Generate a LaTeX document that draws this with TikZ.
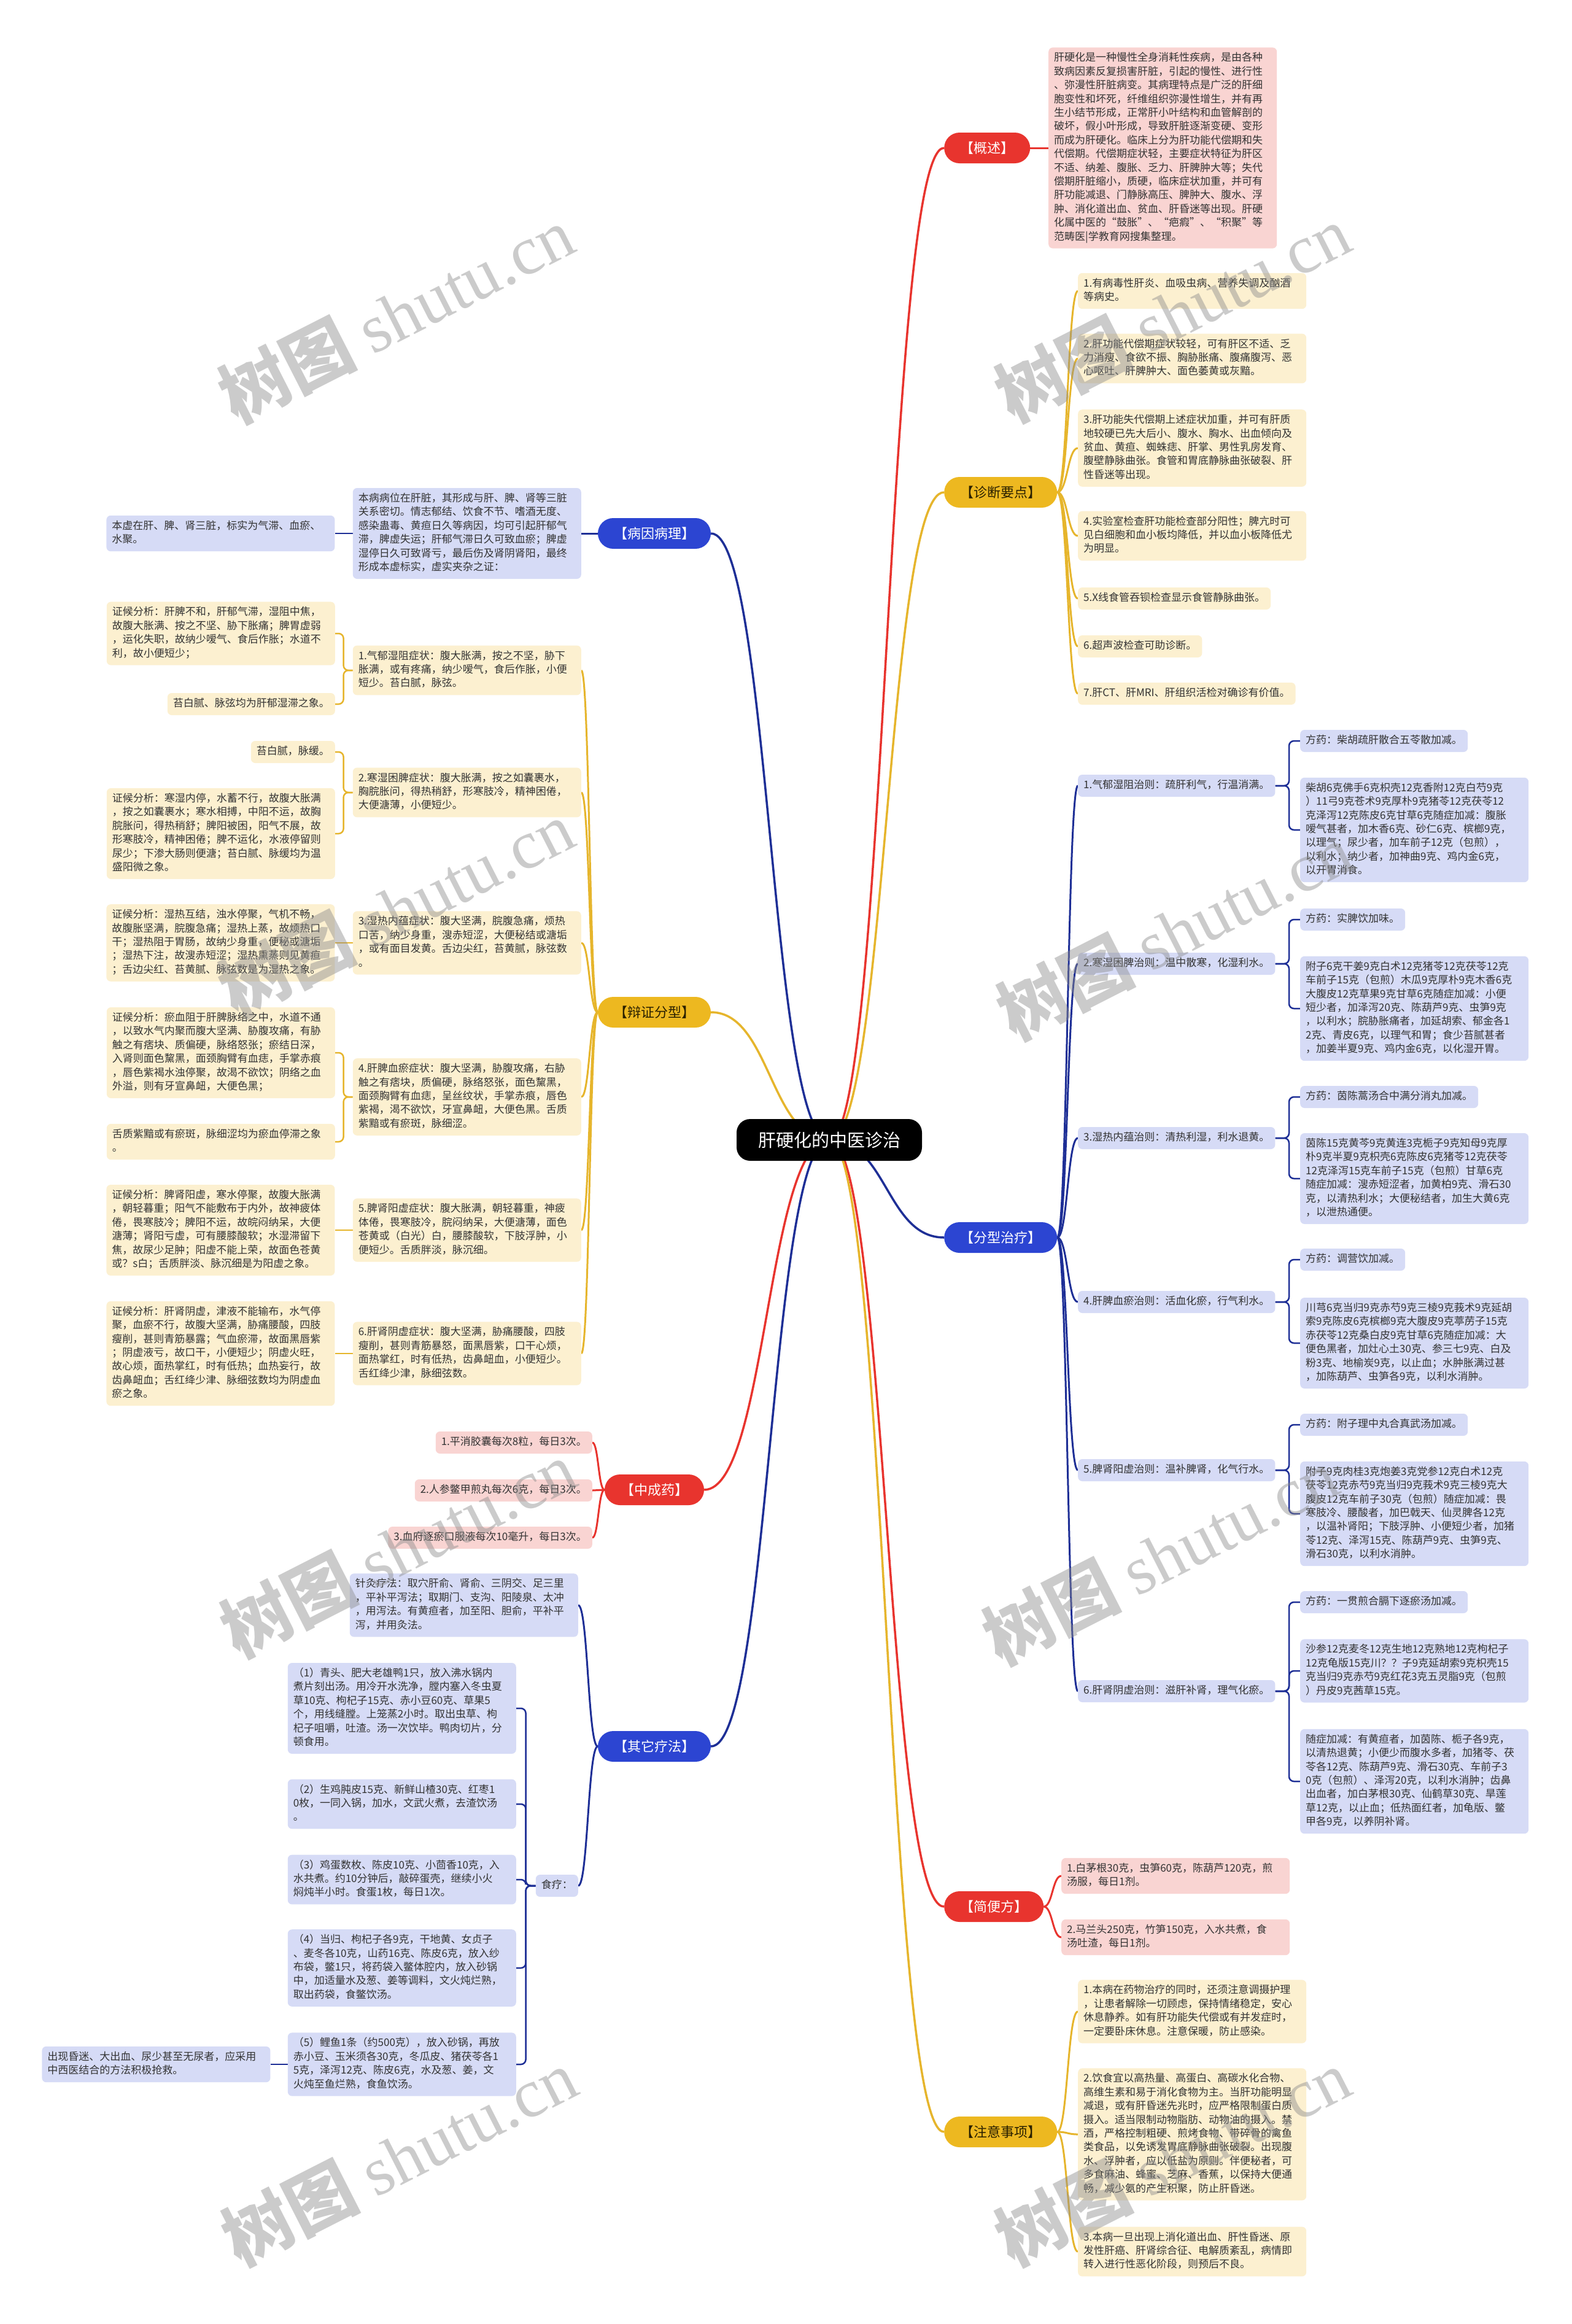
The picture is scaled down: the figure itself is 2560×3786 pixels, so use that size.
\documentclass[tikz,border=0pt]{standalone}
\usepackage{fontspec}
\setmainfont{Noto Sans CJK SC}
\newfontfamily\latfont{Liberation Serif}
\usepackage{tikz}
\usetikzlibrary{positioning,calc,backgrounds}

\definecolor{rosso}{HTML}{E8342E}
\definecolor{giallo}{HTML}{EDB820}
\definecolor{giallolin}{HTML}{E6B52C}
\definecolor{blu}{HTML}{2C45D2}
\definecolor{blulin}{HTML}{1E2F96}
\definecolor{rosa}{HTML}{F9D4D2}
\definecolor{crema}{HTML}{FCF0D0}
\definecolor{lilla}{HTML}{D6DBF6}
\definecolor{testo}{HTML}{333333}
\definecolor{scuro}{HTML}{2B2100}
\definecolor{grigio}{HTML}{8C8C8C}

\begin{document}
\begin{tikzpicture}[x=1pt, y=-1pt,
    centro/.style={fill=black, text=white, rounded corners=22pt, minimum width=302pt, minimum height=68pt, font=\fontsize{29}{34}\selectfont},
    ramo/.style={rounded corners=25pt, minimum height=50pt, inner xsep=26pt, font=\fontsize{22}{27}\selectfont},
    casella/.style={rounded corners=7pt, inner xsep=9pt, inner ysep=6.8pt, text=testo, font=\fontsize{17}{22.4}\selectfont, execute at begin node=\strut},
    foglia/.style={casella, text width=354pt, align=left, execute at end node=\strut},
    tronco/.style={line width=3.5pt},
    medio/.style={line width=3pt},
    sottile/.style={line width=2.5pt, rounded corners=8pt},
    curva/.style={to path={let \p1=(\tikztostart), \p2=(\tikztotarget) in .. controls ({(\x1+\x2)/2},\y1) and ({(\x1+\x2)/2},\y2) .. (\tikztotarget)}},
    filigrana/.style={text=grigio, text opacity=0.45, font=\fontsize{112}{120}\selectfont}]

\useasboundingbox (0,0) rectangle (2560,3786);

% nodo centrale
\node[centro] (m) at (1351,1857) {肝硬化的中医诊治};

% rami principali
\node[ramo, fill=rosso, text=white, anchor=west] (b1) at (1538,241) {【概述】};
\node[ramo, fill=giallo, text=scuro, anchor=west] (b2) at (1538,802) {【诊断要点】};
\node[ramo, fill=blu, text=white] (b3) at (1066,869) {【病因病理】};
\node[ramo, fill=giallo, text=scuro] (b4) at (1066,1649) {【辩证分型】};
\node[ramo, fill=blu, text=white, anchor=west] (b5) at (1538,2016) {【分型治疗】};
\node[ramo, fill=rosso, text=white] (b6) at (1066,2427) {【中成药】};
\node[ramo, fill=blu, text=white] (b7) at (1066,2845) {【其它疗法】};
\node[ramo, fill=rosso, text=white, anchor=west] (b8) at (1538,3106) {【简便方】};
\node[ramo, fill=giallo, text=scuro, anchor=west] (b9) at (1538,3473) {【注意事项】};

%概述
\node[foglia, fill=rosa, anchor=west] (a1) at (1708,241) {肝硬化是一种慢性全身消耗性疾病，是由各种\\致病因素反复损害肝脏，引起的慢性、进行性\\、弥漫性肝脏病变。其病理特点是广泛的肝细\\胞变性和坏死，纤维组织弥漫性增生，并有再\\生小结节形成，正常肝小叶结构和血管解剖的\\破坏，假小叶形成，导致肝脏逐渐变硬、变形\\而成为肝硬化。临床上分为肝功能代偿期和失\\代偿期。代偿期症状轻，主要症状特征为肝区\\不适、纳差、腹胀、乏力、肝脾肿大等；失代\\偿期肝脏缩小，质硬，临床症状加重，并可有\\肝功能减退、门静脉高压、脾肿大、腹水、浮\\肿、消化道出血、贫血、肝昏迷等出现。肝硬\\化属中医的“鼓胀”、“疤瘕”、“积聚”等\\范畴医|学教育网搜集整理。};

% 诊断要点
\node[foglia, fill=crema, anchor=west] (d1) at (1756,474) {1.有病毒性肝炎、血吸虫病、营养失调及酗酒\\等病史。};
\node[foglia, fill=crema, anchor=west] (d2) at (1756,584) {2.肝功能代偿期症状较轻，可有肝区不适、乏\\力消瘦、食欲不振、胸胁胀痛、腹痛腹泻、恶\\心呕吐、肝脾肿大、面色萎黄或灰黯。};
\node[foglia, fill=crema, anchor=west] (d3) at (1756,730) {3.肝功能失代偿期上述症状加重，并可有肝质\\地较硬已先大后小、腹水、胸水、出血倾向及\\贫血、黄疸、蜘蛛痣、肝掌、男性乳房发育、\\腹壁静脉曲张。食管和胃底静脉曲张破裂、肝\\性昏迷等出现。};
\node[foglia, fill=crema, anchor=west] (d4) at (1756,873) {4.实验室检查肝功能检查部分阳性；脾亢时可\\见白细胞和血小板均降低，并以血小板降低尤\\为明显。};
\node[casella, fill=crema, anchor=west] (d5) at (1756,975) {5.X线食管吞钡检查显示食管静脉曲张。};
\node[casella, fill=crema, anchor=west] (d6) at (1756,1053) {6.超声波检查可助诊断。};
\node[casella, fill=crema, anchor=west] (d7) at (1756,1130) {7.肝CT、肝MRI、肝组织活检对确诊有价值。};

% 病因病理
\node[foglia, fill=lilla, anchor=east] (e1) at (947,869) {本病病位在肝脏，其形成与肝、脾、肾等三脏\\关系密切。情志郁结、饮食不节、嗜酒无度、\\感染蛊毒、黄疸日久等病因，均可引起肝郁气\\滞，脾虚失运；肝郁气滞日久可致血瘀；脾虚\\湿停日久可致肾亏，最后伤及肾阴肾阳，最终\\形成本虚标实，虚实夹杂之证：};
\node[foglia, fill=lilla, left=29pt of e1] (e2) {本虚在肝、脾、肾三脏，标实为气滞、血瘀、\\水聚。};

% 辩证分型
\node[foglia, fill=crema, anchor=east] (s1) at (947,1092) {1.气郁湿阻症状：腹大胀满，按之不坚，胁下\\胀满，或有疼痛，纳少嗳气，食后作胀，小便\\短少。苔白腻，脉弦。};
\node[foglia, fill=crema, anchor=east] (s2) at (947,1291) {2.寒湿困脾症状：腹大胀满，按之如囊裹水，\\胸脘胀问，得热稍舒，形寒肢冷，精神困倦，\\大便溏薄，小便短少。};
\node[foglia, fill=crema, anchor=east] (s3) at (947,1536) {3.湿热内蕴症状：腹大坚满，脘腹急痛，烦热\\口苦，纳少身重，溲赤短涩，大便秘结或溏垢\\，或有面目发黄。舌边尖红，苔黄腻，脉弦数\\。};
\node[foglia, fill=crema, anchor=east] (s4) at (947,1787) {4.肝脾血瘀症状：腹大坚满，胁腹攻痛，右胁\\触之有痞块，质偏硬，脉络怒张，面色黧黑，\\面颈胸臂有血痣，呈丝纹状，手掌赤痕，唇色\\紫褐，渴不欲饮，牙宣鼻衄，大便色黑。舌质\\紫黯或有瘀斑，脉细涩。};
\node[foglia, fill=crema, anchor=east] (s5) at (947,2004) {5.脾肾阳虚症状：腹大胀满，朝轻暮重，神疲\\体倦，畏寒肢冷，脘闷纳呆，大便溏薄，面色\\苍黄或（白光）白，腰膝酸软，下肢浮肿，小\\便短少。舌质胖淡，脉沉细。};
\node[foglia, fill=crema, anchor=east] (s6) at (947,2205) {6.肝肾阴虚症状：腹大坚满，胁痛腰酸，四肢\\瘦削，甚则青筋暴怒，面黑唇紫，口干心烦，\\面热掌红，时有低热，齿鼻衄血，小便短少。\\舌红绛少津，脉细弦数。};

\node[foglia, fill=crema, anchor=east] (g1) at (546,1032) {证候分析：肝脾不和，肝郁气滞，湿阻中焦，\\故腹大胀满、按之不坚、胁下胀痛；脾胃虚弱\\，运化失职，故纳少嗳气、食后作胀；水道不\\利，故小便短少；};
\node[casella, fill=crema, anchor=east] (g2) at (546,1147) {苔白腻、脉弦均为肝郁湿滞之象。};
\node[casella, fill=crema, anchor=east] (g3) at (546,1225) {苔白腻，脉缓。};
\node[foglia, fill=crema, anchor=east] (g4) at (546,1358) {证候分析：寒湿内停，水蓄不行，故腹大胀满\\，按之如囊裹水；寒水相搏，中阳不运，故胸\\脘胀问，得热稍舒；脾阳被困，阳气不展，故\\形寒肢冷，精神困倦；脾不运化，水液停留则\\尿少；下渗大肠则便溏；苔白腻、脉缓均为温\\盛阳微之象。};
\node[foglia, fill=crema, left=29pt of s3] (g5) {证候分析：湿热互结，浊水停聚，气机不畅，\\故腹胀坚满，脘腹急痛；湿热上蒸，故烦热口\\干；湿热阻于胃肠，故纳少身重，便秘或溏垢\\；湿热下注，故溲赤短涩；湿热熏蒸则见黄疸\\；舌边尖红、苔黄腻、脉弦数是为湿热之象。};
\node[foglia, fill=crema, anchor=east] (g6) at (546,1715) {证候分析：瘀血阻于肝脾脉络之中，水道不通\\，以致水气内聚而腹大坚满、胁腹攻痛，有胁\\触之有痞块、质偏硬，脉络怒张；瘀结日深，\\入肾则面色黧黑，面颈胸臂有血痣，手掌赤痕\\，唇色紫褐水浊停聚，故渴不欲饮；阴络之血\\外溢，则有牙宣鼻衄，大便色黑；};
\node[foglia, fill=crema, anchor=east] (g7) at (546,1860) {舌质紫黯或有瘀斑，脉细涩均为瘀血停滞之象\\。};
\node[foglia, fill=crema, left=29pt of s5] (g8) {证候分析：脾肾阳虚，寒水停聚，故腹大胀满\\，朝轻暮重；阳气不能敷布于内外，故神疲体\\倦，畏寒肢冷；脾阳不运，故皖闷纳呆，大便\\溏薄；肾阳亏虚，可有腰膝酸软；水湿滞留下\\焦，故尿少足肿；阳虚不能上荣，故面色苍黄\\或？s白；舌质胖淡、脉沉细是为阳虚之象。};
\node[foglia, fill=crema, left=29pt of s6] (g9) {证候分析：肝肾阴虚，津液不能输布，水气停\\聚，血瘀不行，故腹大坚满，胁痛腰酸，四肢\\瘦削，甚则青筋暴露；气血瘀滞，故面黑唇紫\\；阴虚液亏，故口干，小便短少；阴虚火旺，\\故心烦，面热掌红，时有低热；血热妄行，故\\齿鼻衄血；舌红绛少津、脉细弦数均为阴虚血\\瘀之象。};

% 分型治疗
\node[casella, fill=lilla, anchor=west] (z1) at (1756,1280) {1.气郁湿阻治则：疏肝利气，行温消满。};
\node[casella, fill=lilla, anchor=west] (z2) at (1756,1570) {2.寒湿困脾治则：温中散寒，化湿利水。};
\node[casella, fill=lilla, anchor=west] (z3) at (1756,1854) {3.湿热内蕴治则：清热利湿，利水退黄。};
\node[casella, fill=lilla, anchor=west] (z4) at (1756,2121) {4.肝脾血瘀治则：活血化瘀，行气利水。};
\node[casella, fill=lilla, anchor=west] (z5) at (1756,2395) {5.脾肾阳虚治则：温补脾肾，化气行水。};
\node[casella, fill=lilla, anchor=west] (z6) at (1756,2755) {6.肝肾阴虚治则：滋肝补肾，理气化瘀。};
\coordinate (k) at (2100,0);

\node[casella, fill=lilla, anchor=west] (p1) at (2118,1207) {方药：柴胡疏肝散合五苓散加减。};
\node[foglia, fill=lilla, anchor=west] (q1) at (2118,1352) {柴胡6克佛手6克枳壳12克香附12克白芍9克\\）11弓9克苍术9克厚朴9克猪苓12克茯苓12\\克泽泻12克陈皮6克甘草6克随症加减：腹胀\\嗳气甚者，加木香6克、砂仁6克、槟榔9克，\\以理气；尿少者，加车前子12克（包煎），\\以利水；纳少者，加神曲9克、鸡内金6克，\\以开胃消食。};
\node[casella, fill=lilla, anchor=west] (p2) at (2118,1498) {方药：实脾饮加味。};
\node[foglia, fill=lilla, anchor=west] (q2) at (2118,1643) {附子6克干姜9克白术12克猪苓12克茯苓12克\\车前子15克（包煎）木瓜9克厚朴9克木香6克\\大腹皮12克草果9克甘草6克随症加减：小便\\短少者，加泽泻20克、陈葫芦9克、虫笋9克\\，以利水；脘胁胀痛者，加延胡索、郁金各1\\2克、青皮6克，以理气和胃；食少苔腻甚者\\，加姜半夏9克、鸡内金6克，以化湿开胃。};
\node[casella, fill=lilla, anchor=west] (p3) at (2118,1787) {方药：茵陈蒿汤合中满分消丸加减。};
\node[foglia, fill=lilla, anchor=west] (q3) at (2118,1920) {茵陈15克黄芩9克黄连3克栀子9克知母9克厚\\朴9克半夏9克枳壳6克陈皮6克猪苓12克茯苓\\12克泽泻15克车前子15克（包煎）甘草6克\\随症加减：溲赤短涩者，加黄柏9克、滑石30\\克，以清热利水；大便秘结者，加生大黄6克\\，以泄热通便。};
\node[casella, fill=lilla, anchor=west] (p4) at (2118,2052) {方药：调营饮加减。};
\node[foglia, fill=lilla, anchor=west] (q4) at (2118,2188) {川芎6克当归9克赤芍9克三棱9克莪术9克延胡\\索9克陈皮6克槟榔9克大腹皮9克葶苈子15克\\赤茯苓12克桑白皮9克甘草6克随症加减：大\\便色黑者，加灶心土30克、参三七9克、白及\\粉3克、地榆炭9克，以止血；水肿胀满过甚\\，加陈葫芦、虫笋各9克，以利水消肿。};
\node[casella, fill=lilla, anchor=west] (p5) at (2118,2321) {方药：附子理中丸合真武汤加减。};
\node[foglia, fill=lilla, anchor=west] (q5) at (2118,2466) {附子9克肉桂3克炮姜3克党参12克白术12克\\茯苓12克赤芍9克当归9克莪术9克三棱9克大\\腹皮12克车前子30克（包煎）随症加减：畏\\寒肢冷、腰酸者，加巴戟天、仙灵脾各12克\\，以温补肾阳；下肢浮肿、小便短少者，加猪\\苓12克、泽泻15克、陈葫芦9克、虫笋9克、\\滑石30克，以利水消肿。};
\node[casella, fill=lilla, anchor=west] (p6) at (2118,2610) {方药：一贯煎合膈下逐瘀汤加减。};
\node[foglia, fill=lilla, anchor=west] (q6) at (2118,2722) {沙参12克麦冬12克生地12克熟地12克枸杞子\\12克龟版15克川？？子9克延胡索9克枳壳15\\克当归9克赤芍9克红花3克五灵脂9克（包煎\\）丹皮9克茜草15克。};
\node[foglia, fill=lilla, anchor=west] (q7) at (2118,2902) {随症加减：有黄疸者，加茵陈、栀子各9克，\\以清热退黄；小便少而腹水多者，加猪苓、茯\\苓各12克、陈葫芦9克、滑石30克、车前子3\\0克（包煎）、泽泻20克，以利水消肿；齿鼻\\出血者，加白茅根30克、仙鹤草30克、旱莲\\草12克，以止血；低热面红者，加龟版、鳖\\甲各9克，以养阴补肾。};

% 中成药
\node[casella, fill=rosa, anchor=east] (c1) at (965,2350) {1.平消胶囊每次8粒，每日3次。};
\node[casella, fill=rosa, anchor=east] (c2) at (965,2428) {2.人参鳖甲煎丸每次6克，每日3次。};
\node[casella, fill=rosa, anchor=east] (c3) at (965,2505) {3.血府逐瘀口服液每次10毫升，每日3次。};

% 其它疗法
\node[foglia, fill=lilla, anchor=east] (o1) at (942,2615) {针灸疗法：取穴肝俞、肾俞、三阴交、足三里\\，平补平泻法；取期门、支沟、阳陵泉、太冲\\，用泻法。有黄疸者，加至阳、胆俞，平补平\\泻，并用灸法。};
\node[casella, fill=lilla, anchor=east] (o2) at (942,3072) {食疗：};
\node[foglia, fill=lilla, anchor=east] (r1) at (841,2783) {（1）青头、肥大老雄鸭1只，放入沸水锅内\\煮片刻出汤。用冷开水洗净，膛内塞入冬虫夏\\草10克、枸杞子15克、赤小豆60克、草果5\\个，用线缝膛。上笼蒸2小时。取出虫草、枸\\杞子咀嚼，吐渣。汤一次饮毕。鸭肉切片，分\\顿食用。};
\node[foglia, fill=lilla, anchor=east] (r2) at (841,2939) {（2）生鸡肫皮15克、新鲜山楂30克、红枣1\\0枚，一同入锅，加水，文武火煮，去渣饮汤\\。};
\node[foglia, fill=lilla, anchor=east] (r3) at (841,3062) {（3）鸡蛋数枚、陈皮10克、小茴香10克，入\\水共煮。约10分钟后，敲碎蛋壳，继续小火\\焖炖半小时。食蛋1枚，每日1次。};
\node[foglia, fill=lilla, anchor=east] (r4) at (841,3206) {（4）当归、枸杞子各9克，干地黄、女贞子\\、麦冬各10克，山药16克、陈皮6克，放入纱\\布袋，鳖1只，将药袋入鳖体腔内，放入砂锅\\中，加适量水及葱、姜等调料，文火炖烂熟，\\取出药袋，食鳖饮汤。};
\node[foglia, fill=lilla, anchor=east] (r5) at (841,3363) {（5）鲤鱼1条（约500克），放入砂锅，再放\\赤小豆、玉米须各30克，冬瓜皮、猪茯苓各1\\5克，泽泻12克、陈皮6克，水及葱、姜，文\\火炖至鱼烂熟，食鱼饮汤。};
\node[foglia, fill=lilla, left=28pt of r5] (r6) {出现昏迷、大出血、尿少甚至无尿者，应采用\\中西医结合的方法积极抢救。};

% 简便方
\node[foglia, fill=rosa, anchor=west] (j1) at (1729,3056) {1.白茅根30克，虫笋60克，陈葫芦120克，煎\\汤服，每日1剂。};
\node[foglia, fill=rosa, anchor=west] (j2) at (1729,3156) {2.马兰头250克，竹笋150克，入水共煮，食\\汤吐渣，每日1剂。};

% 注意事项
\node[foglia, fill=crema, anchor=west] (n1) at (1756,3277) {1.本病在药物治疗的同时，还须注意调摄护理\\，让患者解除一切顾虑，保持情绪稳定，安心\\休息静养。如有肝功能失代偿或有并发症时，\\一定要卧床休息。注意保暖，防止感染。};
\node[foglia, fill=crema, anchor=west] (n2) at (1756,3477) {2.饮食宜以高热量、高蛋白、高碳水化合物、\\高维生素和易于消化食物为主。当肝功能明显\\减退，或有肝昏迷先兆时，应严格限制蛋白质\\摄入。适当限制动物脂肪、动物油的摄入。禁\\酒，严格控制粗硬、煎烤食物、带碎骨的禽鱼\\类食品，以免诱发胃底静脉曲张破裂。出现腹\\水、浮肿者，应以低盐为原则。伴便秘者，可\\多食麻油、蜂蜜、芝麻、香蕉，以保持大便通\\畅，减少氨的产生积聚，防止肝昏迷。};
\node[foglia, fill=crema, anchor=west] (n3) at (1756,3668) {3.本病一旦出现上消化道出血、肝性昏迷、原\\发性肝癌、肝肾综合征、电解质紊乱，病情即\\转入进行性恶化阶段，则预后不良。};

% collegamenti
\begin{scope}[on background layer]
\fill[white] (0,0) rectangle (2560,3786);
\draw[tronco, rosso] (m.center) to[curva] (b1.west);
\draw[tronco, giallolin] (m.center) to[curva] (b2.west);
\draw[tronco, blulin] (m.center) to[curva] (b3.east);
\draw[tronco, giallolin] (m.center) to[curva] (b4.east);
\draw[tronco, blulin] (m.center) to[curva] (b5.west);
\draw[tronco, rosso] (m.center) to[curva] (b6.east);
\draw[tronco, blulin] (m.center) to[curva] (b7.east);
\draw[tronco, rosso] (m.center) to[curva] (b8.west);
\draw[tronco, giallolin] (m.center) to[curva] (b9.west);

\draw[medio, rosso] (b1.east) -- (a1.west);
\draw[medio, giallolin] (b2.east) to[curva] (d1.west);
\draw[medio, giallolin] (b2.east) to[curva] (d2.west);
\draw[medio, giallolin] (b2.east) to[curva] (d3.west);
\draw[medio, giallolin] (b2.east) to[curva] (d4.west);
\draw[medio, giallolin] (b2.east) to[curva] (d5.west);
\draw[medio, giallolin] (b2.east) to[curva] (d6.west);
\draw[medio, giallolin] (b2.east) to[curva] (d7.west);

\draw[medio, blulin] (b3.west) -- (e1.east);
\draw[sottile, blulin] (e1.west) -- (e2.east);

\draw[medio, giallolin] (b4.west) to[curva] (s1.east);
\draw[medio, giallolin] (b4.west) to[curva] (s2.east);
\draw[medio, giallolin] (b4.west) to[curva] (s3.east);
\draw[medio, giallolin] (b4.west) to[curva] (s4.east);
\draw[medio, giallolin] (b4.west) to[curva] (s5.east);
\draw[medio, giallolin] (b4.west) to[curva] (s6.east);
\draw[sottile, giallolin] (s1.west) -- ++(-15,0) |- (g1.east);
\draw[sottile, giallolin] (s1.west) -- ++(-15,0) |- (g2.east);
\draw[sottile, giallolin] (s2.west) -- ++(-15,0) |- (g3.east);
\draw[sottile, giallolin] (s2.west) -- ++(-15,0) |- (g4.east);
\draw[sottile, giallolin] (s3.west) -- (g5.east);
\draw[sottile, giallolin] (s4.west) -- ++(-15,0) |- (g6.east);
\draw[sottile, giallolin] (s4.west) -- ++(-15,0) |- (g7.east);
\draw[sottile, giallolin] (s5.west) -- (g8.east);
\draw[sottile, giallolin] (s6.west) -- (g9.east);

\draw[medio, blulin] (b5.east) to[curva] (z1.west);
\draw[medio, blulin] (b5.east) to[curva] (z2.west);
\draw[medio, blulin] (b5.east) to[curva] (z3.west);
\draw[medio, blulin] (b5.east) to[curva] (z4.west);
\draw[medio, blulin] (b5.east) to[curva] (z5.west);
\draw[medio, blulin] (b5.east) to[curva] (z6.west);
\draw[sottile, blulin] (z1.east) -- (z1.east -| k) |- (p1.west);
\draw[sottile, blulin] (z1.east) -- (z1.east -| k) |- (q1.west);
\draw[sottile, blulin] (z2.east) -- (z2.east -| k) |- (p2.west);
\draw[sottile, blulin] (z2.east) -- (z2.east -| k) |- (q2.west);
\draw[sottile, blulin] (z3.east) -- (z3.east -| k) |- (p3.west);
\draw[sottile, blulin] (z3.east) -- (z3.east -| k) |- (q3.west);
\draw[sottile, blulin] (z4.east) -- (z4.east -| k) |- (p4.west);
\draw[sottile, blulin] (z4.east) -- (z4.east -| k) |- (q4.west);
\draw[sottile, blulin] (z5.east) -- (z5.east -| k) |- (p5.west);
\draw[sottile, blulin] (z5.east) -- (z5.east -| k) |- (q5.west);
\draw[sottile, blulin] (z6.east) -- (z6.east -| k) |- (p6.west);
\draw[sottile, blulin] (z6.east) -- (z6.east -| k) |- (q6.west);
\draw[sottile, blulin] (z6.east) -- (z6.east -| k) |- (q7.west);

\draw[medio, rosso] (b6.west) to[curva] (c1.east);
\draw[medio, rosso] (b6.west) to[curva] (c2.east);
\draw[medio, rosso] (b6.west) to[curva] (c3.east);

\draw[medio, blulin] (b7.west) to[curva] (o1.east);
\draw[medio, blulin] (b7.west) to[curva] (o2.east);
\draw[sottile, blulin] (o2.west) -- ++(-16,0) |- (r1.east);
\draw[sottile, blulin] (o2.west) -- ++(-16,0) |- (r2.east);
\draw[sottile, blulin] (o2.west) -- ++(-16,0) |- (r3.east);
\draw[sottile, blulin] (o2.west) -- ++(-16,0) |- (r4.east);
\draw[sottile, blulin] (o2.west) -- ++(-16,0) |- (r5.east);
\draw[sottile, blulin] (r5.west) -- (r6.east);

\draw[medio, rosso] (b8.east) to[curva] (j1.west);
\draw[medio, rosso] (b8.east) to[curva] (j2.west);

\draw[medio, giallolin] (b9.east) to[curva] (n1.west);
\draw[medio, giallolin] (b9.east) to[curva] (n2.west);
\draw[medio, giallolin] (b9.east) to[curva] (n3.west);
\end{scope}

% filigrana
\node[filigrana, rotate=27] (w1) at (645,512) {{\bfseries 树图} {\latfont shutu.cn}};
\node[filigrana, rotate=27] (w2) at (645,1480) {{\bfseries 树图} {\latfont shutu.cn}};
\node[filigrana, rotate=27] (w3) at (648,2523) {{\bfseries 树图} {\latfont shutu.cn}};
\node[filigrana, rotate=27] (w4) at (650,3514) {{\bfseries 树图} {\latfont shutu.cn}};
\node[filigrana, rotate=27] (w5) at (1910,510) {{\bfseries 树图} {\latfont shutu.cn}};
\node[filigrana, rotate=27] (w6) at (1913,1517) {{\bfseries 树图} {\latfont shutu.cn}};
\node[filigrana, rotate=27] (w7) at (1890,2535) {{\bfseries 树图} {\latfont shutu.cn}};
\node[filigrana, rotate=27] (w8) at (1910,3514) {{\bfseries 树图} {\latfont shutu.cn}};

\end{tikzpicture}
\end{document}
